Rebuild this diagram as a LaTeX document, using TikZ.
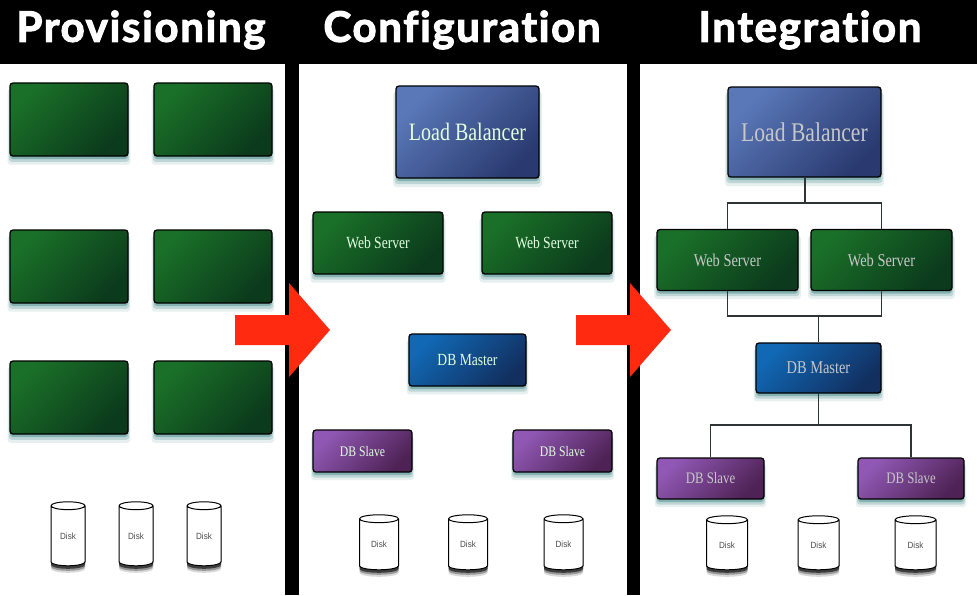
\documentclass[tikz,border=0pt]{standalone}
\usepackage{fontspec}
\setmainfont[FakeStretch=0.8]{Liberation Serif}
\newfontfamily\titlefont[LetterSpace=4,Ligatures=NoCommon,BoldFeatures={FakeBold=2.6}]{Lato}
\newfontfamily\diskfont[FakeStretch=0.9]{Liberation Sans}
\usetikzlibrary{shapes.geometric,shadows}
\definecolor{arrowred}{HTML}{FF2A10}
\definecolor{edgegray}{HTML}{2E3436}
\definecolor{glowteal}{HTML}{5F9A9A}
\definecolor{lbtop}{HTML}{5A78B8}
\definecolor{lbbot}{HTML}{2A3A70}
\definecolor{webtop}{HTML}{1A7028}
\definecolor{webbot}{HTML}{0B3A1C}
\definecolor{mastertop}{HTML}{1168B4}
\definecolor{masterbot}{HTML}{122F60}
\definecolor{slavetop}{HTML}{9058B4}
\definecolor{slavebot}{HTML}{4E2255}
\tikzset{
  titletext/.style={font=\titlefont\bfseries\fontsize{42}{44}\selectfont,text=white,inner sep=0pt},
  softglow/.style={
    drop shadow={shadow xshift=0pt,shadow yshift=-7pt,shadow scale=1.04,fill=glowteal,opacity=0.15},
    drop shadow={shadow xshift=0pt,shadow yshift=-5pt,shadow scale=1.02,fill=glowteal,opacity=0.3},
    drop shadow={shadow xshift=0pt,shadow yshift=-3pt,fill=glowteal,opacity=0.6}},
  srvbox/.style={rectangle,rounded corners=3pt,draw=black,line width=1.3pt,inner sep=0pt,
    text=white!88!green,softglow},
  dimtext/.style={text=white!78!black},
  lbbox/.style={srvbox,top color=lbtop,bottom color=lbbot,shading angle=45},
  webbox/.style={srvbox,top color=webtop,bottom color=webbot,shading angle=45},
  masterbox/.style={srvbox,top color=mastertop,bottom color=masterbot,shading angle=45},
  slavebox/.style={srvbox,top color=slavetop,bottom color=slavebot,shading angle=45},
  diskbox/.style={cylinder,shape border rotate=90,shape aspect=0.5,draw=black,line width=1pt,
    fill=white,inner sep=0pt,font=\diskfont\fontsize{9}{10}\selectfont,text=black!70,
    drop shadow={shadow xshift=0pt,shadow yshift=-7pt,fill=black,opacity=0.15},
    drop shadow={shadow xshift=0pt,shadow yshift=-5pt,fill=black,opacity=0.3},
    drop shadow={shadow xshift=0pt,shadow yshift=-3pt,fill=black,opacity=0.6}},
  link/.style={draw=edgegray,line width=1.3pt},
}
\begin{document}
\begin{tikzpicture}[x=1pt,y=-1pt]
  \useasboundingbox (0,0) rectangle (977,595);
  \fill[black] (0,0) rectangle (977,595);
  \fill[white] (0,64) rectangle (285,595);
  \fill[white] (299,64) rectangle (627,595);
  \fill[white] (640,64) rectangle (977,595);

  \node[titletext] (titleprov) at (141,30) {Provisioning};
  \node[titletext] (titleconf) at (462,30) {Configuration};
  \node[titletext] (titleintg) at (810,30) {Integration};

  % Provisioning: empty boxes
  \foreach \nm/\cx/\cy in {pa/69/119.5,pb/213/119.5,pc/69/266.5,pd/213/266.5,pe/69/397.5,pf/213/397.5}
    \node[webbox,minimum width=118pt,minimum height=73pt] (\nm) at (\cx,\cy) {};
  \foreach \nm/\cx in {pdiska/68,pdiskb/136,pdiskc/204}
    \node[diskbox,minimum width=34pt,minimum height=64pt] (\nm) at (\cx,536) {Disk};

  % Configuration: no links yet
  \node[lbbox,minimum width=143pt,minimum height=92pt,font=\fontsize{25}{27}\selectfont] (clb) at (467.5,132) {Load Balancer};
  \node[webbox,minimum width=130pt,minimum height=62pt,font=\fontsize{17}{19}\selectfont] (cweba) at (378,243) {Web Server};
  \node[webbox,minimum width=130pt,minimum height=62pt,font=\fontsize{17}{19}\selectfont] (cwebb) at (547,243) {Web Server};
  \node[masterbox,minimum width=117pt,minimum height=52pt,font=\fontsize{17}{19}\selectfont] (cmaster) at (467.5,360) {DB Master};
  \node[slavebox,minimum width=99pt,minimum height=42pt,font=\fontsize{14.6}{16}\selectfont] (cslavea) at (362.5,451) {DB Slave};
  \node[slavebox,minimum width=99pt,minimum height=42pt,font=\fontsize{14.6}{16}\selectfont] (cslaveb) at (562.5,451) {DB Slave};
  \foreach \nm/\cx in {cdiska/379,cdiskb/468,cdiskc/563.5}
    \node[diskbox,minimum width=39pt,minimum height=55pt] (\nm) at (\cx,544.5) {Disk};

  % Integration: nodes and their links
  \node[lbbox,dimtext,minimum width=153pt,minimum height=90pt,font=\fontsize{27}{29}\selectfont] (ilb) at (804.5,132) {Load Balancer};
  \node[webbox,dimtext,minimum width=141pt,minimum height=61pt,font=\fontsize{18}{20}\selectfont] (iweba) at (727.5,260) {Web Server};
  \node[webbox,dimtext,minimum width=141pt,minimum height=61pt,font=\fontsize{18}{20}\selectfont] (iwebb) at (881.5,260) {Web Server};
  \node[masterbox,dimtext,minimum width=125pt,minimum height=50pt,font=\fontsize{18}{20}\selectfont] (imaster) at (818.5,368) {DB Master};
  \node[slavebox,dimtext,minimum width=107pt,minimum height=41pt,font=\fontsize{16}{18}\selectfont] (islavea) at (710.5,478.5) {DB Slave};
  \node[slavebox,dimtext,minimum width=106pt,minimum height=41pt,font=\fontsize{16}{18}\selectfont] (islaveb) at (911,478.5) {DB Slave};
  \foreach \nm/\cx in {idiska/727,idiskb/818.5,idiskc/915.5}
    \node[diskbox,minimum width=41pt,minimum height=54pt] (\nm) at (\cx,545) {Disk};

  \coordinate (busweb) at (804.5,203);
  \coordinate (busdb) at (818.5,316);
  \coordinate (busslave) at (818.5,425);
  \draw[link,line width=2pt] (ilb.south) -- (busweb);
  \draw[link] (iweba.north) |- (busweb) -| (iwebb.north);
  \draw[link] (iweba.south) |- (busdb) -| (iwebb.south);
  \draw[link] (busdb) -- (imaster.north);
  \draw[link] (imaster.south) -- (busslave);
  \draw[link] (islavea.north) |- (busslave) -| (islaveb.north);

  % big red arrows between the panels
  \foreach \dx in {0,341}
    \fill[arrowred,xshift=\dx pt] (235,315) -- (289,315) -- (289,283) -- (330,330) -- (289,377) -- (289,345) -- (235,345) -- cycle;
\end{tikzpicture}
\end{document}
